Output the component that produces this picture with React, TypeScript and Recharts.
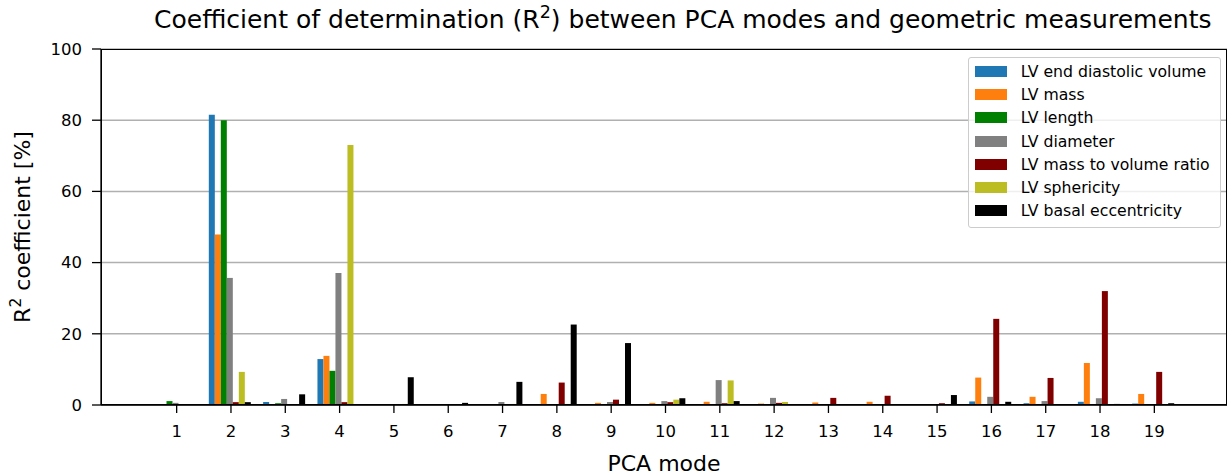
import { Bar, BarChart, CartesianGrid, Legend, XAxis, YAxis } from "recharts"

// PCA modes on the x axis
const modes = ["1", "2", "3", "4", "5", "6", "7", "8", "9", "10", "11", "12", "13", "14", "15", "16", "17", "18", "19"]

// R^2 values in % for each geometric measurement, read per mode
const endDiastolicVolume = [0.2, 81.5, 0.85, 12.9, 0, 0, 0, 0, 0, 0.1, 0.1, 0, 0, 0, 0, 1.0, 0.5, 0.9, 0.4]
const lvMass = [0.2, 47.9, 0.1, 13.8, 0.1, 0.1, 0.1, 3.1, 0.6, 0.6, 0.9, 0.4, 0.7, 0.9, 0.2, 7.7, 2.3, 11.8, 3.1]
const lvLength = [1.1, 80.0, 0.5, 9.6, 0, 0, 0, 0.1, 0, 0.1, 0.2, 0, 0, 0, 0, 0.2, 0.1, 0.1, 0.1]
const lvDiameter = [0.6, 35.7, 1.7, 37.1, 0.1, 0.1, 0.85, 0.1, 0.85, 1.1, 7.0, 2.0, 0.1, 0.1, 0.1, 2.3, 1.1, 1.9, 0.2]
const massVolumeRatio = [0, 0.8, 0.2, 0.8, 0.2, 0.1, 0.1, 6.3, 1.5, 0.8, 0.5, 0.6, 2.0, 2.6, 0.5, 24.2, 7.6, 32.0, 9.3]
const sphericity = [0.2, 9.3, 0.1, 73.0, 0.3, 0, 0.3, 0.3, 0.1, 1.5, 6.9, 0.85, 0.2, 0.2, 0.1, 0.2, 0.2, 0.2, 0.1]
const basalEccentricity = [0, 0.8, 3.0, 0, 7.8, 0.6, 6.5, 22.6, 17.4, 1.9, 1.1, 0, 0, 0, 2.8, 0.9, 0, 0.3, 0.5]

const yTicks = [0, 20, 40, 60, 80, 100]

const series = [
  { key: "edv", name: "LV end diastolic volume", color: "#1f77b4", values: endDiastolicVolume },
  { key: "mass", name: "LV mass", color: "#ff7f0e", values: lvMass },
  { key: "length", name: "LV length", color: "#008000", values: lvLength },
  { key: "diameter", name: "LV diameter", color: "#808080", values: lvDiameter },
  { key: "ratio", name: "LV mass to volume ratio", color: "#800000", values: massVolumeRatio },
  { key: "sphericity", name: "LV sphericity", color: "#bcbd22", values: sphericity },
  { key: "basal", name: "LV basal eccentricity", color: "#000000", values: basalEccentricity },
]

const data = modes.map((mode, i) => {
  const row: Record<string, string | number> = { mode }
  series.forEach((s) => {
    row[s.key] = s.values[i]
  })
  return row
})

const FONT = "'DejaVu Sans', sans-serif"
const sup = { fontSize: "0.7em", verticalAlign: "0.55em", lineHeight: 0 }

const PLOT_LEFT = 101
const PLOT_RIGHT = 1227

// legend keeps the series order (recharts sorts by name otherwise)
const LegendBox = ({ payload }: any) => {
  const order = series.map((s) => s.name)
  const items = [...(payload || [])].sort((a: any, b: any) => order.indexOf(a.value) - order.indexOf(b.value))
  return (
    <div
      style={{
        background: "rgba(255,255,255,0.8)",
        border: "1px solid #cccccc",
        borderRadius: 3,
        padding: "2px 6px 5px 6px",
        fontFamily: FONT,
        fontSize: 15.7,
        color: "#000",
        boxSizing: "border-box",
      }}
    >
      {items.map((p: any) => (
        <div key={p.value} style={{ display: "flex", alignItems: "center", height: 23.2, whiteSpace: "nowrap" }}>
          <span style={{ display: "inline-block", width: 32, height: 11, background: p.color, marginRight: 13.7 }} />
          <span>{p.value}</span>
        </div>
      ))}
    </div>
  )
}

export default function App() {
  return (
    <div style={{ position: "absolute", left: 0, top: 0, width: 1229, height: 475, background: "#fff", fontFamily: FONT }}>
      <div
        style={{
          position: "absolute",
          left: 154,
          top: 5,
          fontSize: 25,
          whiteSpace: "nowrap",
        }}
      >
        Coefficient of determination (R<sup style={sup}>2</sup>) between PCA modes and geometric measurements
      </div>
      <div
        style={{
          position: "absolute",
          left: 22,
          top: 227,
          transform: "translate(-50%, -50%) rotate(-90deg)",
          fontSize: 22,
          whiteSpace: "nowrap",
        }}
      >
        R<sup style={sup}>2</sup> coefficient [%]
      </div>
      <div
        style={{
          position: "absolute",
          left: PLOT_LEFT,
          width: PLOT_RIGHT - PLOT_LEFT,
          top: 451,
          textAlign: "center",
          fontSize: 22,
        }}
      >
        PCA mode
      </div>
      <BarChart
        width={1229}
        height={475}
        data={data}
        margin={{ top: 49, right: 1229 - PLOT_RIGHT, left: 0, bottom: 0 }}
        barCategoryGap={5}
        barGap={0}
        style={{ position: "absolute", left: 0, top: 0 }}
      >
        <CartesianGrid vertical={false} stroke="#b0b0b0" strokeWidth={1.5} />
        <XAxis
          dataKey="mode"
          padding={{ left: 48.5, right: 45.5 }}
          height={70}
          tickSize={8}
          tickMargin={12}
          tick={{ fill: "#000", fontSize: 16.5, fontFamily: FONT }}
          tickLine={{ stroke: "#000", strokeWidth: 1.3 }}
          axisLine={{ stroke: "#000", strokeWidth: 1.3 }}
        />
        <YAxis
          domain={[0, 100]}
          ticks={yTicks}
          width={PLOT_LEFT}
          tickSize={9}
          tickMargin={10}
          tick={{ fill: "#000", fontSize: 16.5, fontFamily: FONT }}
          tickLine={{ stroke: "#000", strokeWidth: 1.3 }}
          axisLine={{ stroke: "#000", strokeWidth: 1.3 }}
        />
        <Legend
          layout="vertical"
          align="center"
          verticalAlign="middle"
          content={<LegendBox />}
          wrapperStyle={{ left: 968, top: 57, width: 253 }}
        />
        {series.map((s) => (
          <Bar key={s.key} dataKey={s.key} name={s.name} fill={s.color} isAnimationActive={false} />
        ))}
      </BarChart>
      {/* axes frame (top and right spines) */}
      <div
        style={{
          position: "absolute",
          left: PLOT_LEFT - 0.5,
          top: 48.5,
          width: PLOT_RIGHT - PLOT_LEFT,
          height: 356.5,
          border: "1.3px solid #000",
          boxSizing: "border-box",
          pointerEvents: "none",
        }}
      />
    </div>
  )
}
